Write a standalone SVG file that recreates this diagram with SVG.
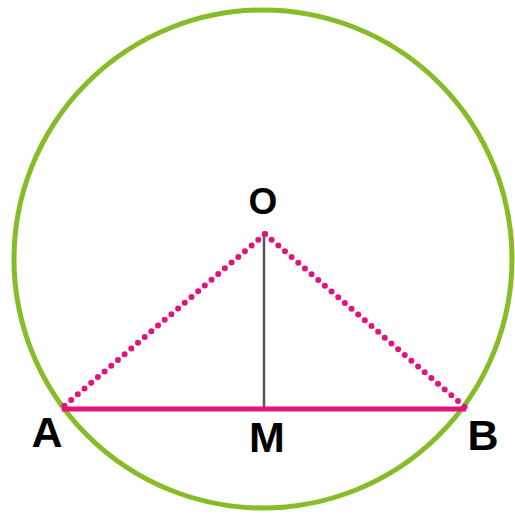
<svg xmlns="http://www.w3.org/2000/svg" width="515" height="516" viewBox="0 0 515 516">
<style>
.circ{fill:none;stroke:#86bc25;stroke-width:5}
.chord{stroke:#e2137f;stroke-width:5;fill:none}
.dot{stroke:#e2137f;stroke-width:6;stroke-linecap:round;stroke-dasharray:0 8.8;fill:none}
.perp{stroke:#555;stroke-width:2.5}
.lbl{font-family:"Liberation Sans",Arial,sans-serif;font-weight:bold;fill:#000;text-anchor:middle}
</style>
<rect width="515" height="516" fill="#fff"/>
<g id="circle"><circle class="circ" cx="263" cy="259" r="249"/></g>
<g id="connectors">
<line class="perp" x1="264" y1="234" x2="264" y2="409"/>
<line class="dot" x1="265" y1="234" x2="63" y2="407"/>
<line class="dot" x1="265" y1="234" x2="465" y2="407"/>
<line class="chord" x1="62" y1="409" x2="466" y2="409"/>
</g>
<g id="node-O"><text class="lbl" x="263" y="214" font-size="37">O</text></g>
<g id="node-A"><text class="lbl" x="47" y="447" font-size="43">A</text></g>
<g id="node-M"><text class="lbl" x="267" y="452" font-size="43">M</text></g>
<g id="node-B"><text class="lbl" x="483" y="450" font-size="43">B</text></g>
</svg>
